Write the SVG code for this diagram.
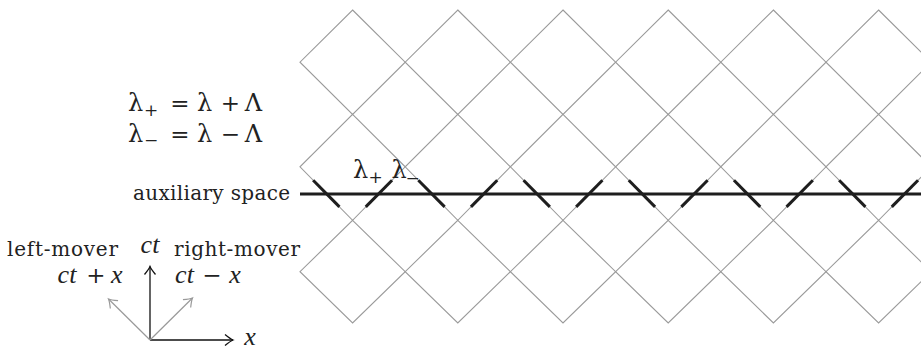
<svg xmlns="http://www.w3.org/2000/svg" width="921" height="349" viewBox="0 0 921 349">
<style>
.grid{fill:none;stroke:#9a9a9a;stroke-width:1.1}
.thick{stroke:#1e1e1e;stroke-width:3;stroke-linecap:butt}
.aux{stroke:#1e1e1e;stroke-width:3}
.lbl{font-family:"DejaVu Serif","Liberation Serif",serif;font-size:20px;fill:#222}
.math{font-family:"DejaVu Serif","Liberation Serif",serif;font-size:24px;fill:#222;text-anchor:middle}
.op{font-family:"DejaVu Serif","Liberation Serif",serif;font-size:23px;fill:#222;text-anchor:middle}
.mi{font-family:"Liberation Serif","DejaVu Serif",serif;font-style:italic;font-size:26px;fill:#222;text-anchor:middle}
.sub{font-family:"DejaVu Serif","Liberation Serif",serif;font-size:17px;fill:#222;text-anchor:middle}
.axk{stroke:#111;stroke-width:1.3;fill:none}
.axg{stroke:#999;stroke-width:1.2;fill:none}
</style>
<defs>
<marker id="ak" markerUnits="userSpaceOnUse" markerWidth="14" markerHeight="14" viewBox="-10 -7 14 14" refX="0" refY="0" orient="auto">
<path d="M-8,-5.5 Q-2.5,-1 0,0 Q-2.5,1 -8,5.5" fill="none" stroke="#111" stroke-width="1.3"/>
</marker>
<marker id="ag" markerUnits="userSpaceOnUse" markerWidth="14" markerHeight="14" viewBox="-10 -7 14 14" refX="0" refY="0" orient="auto">
<path d="M-8,-5.5 Q-2.5,-1 0,0 Q-2.5,1 -8,5.5" fill="none" stroke="#999" stroke-width="1.2"/>
</marker>
</defs>
<rect width="921" height="349" fill="#fff"/>
<g id="lattice" class="grid">
<polygon points="352.6,10 405.2,62.2 352.6,114.4 300,62.2"/>
<polygon points="457.8,10 510.4,62.2 457.8,114.4 405.2,62.2"/>
<polygon points="563,10 615.6,62.2 563,114.4 510.4,62.2"/>
<polygon points="668.2,10 720.8,62.2 668.2,114.4 615.6,62.2"/>
<polygon points="773.4,10 826,62.2 773.4,114.4 720.8,62.2"/>
<polygon points="878.6,10 931.2,62.2 878.6,114.4 826,62.2"/>
<polygon points="352.6,114.4 405.2,166.8 352.6,220.3 300,166.8"/>
<polygon points="457.8,114.4 510.4,166.8 457.8,220.3 405.2,166.8"/>
<polygon points="563,114.4 615.6,166.8 563,220.3 510.4,166.8"/>
<polygon points="668.2,114.4 720.8,166.8 668.2,220.3 615.6,166.8"/>
<polygon points="773.4,114.4 826,166.8 773.4,220.3 720.8,166.8"/>
<polygon points="878.6,114.4 931.2,166.8 878.6,220.3 826,166.8"/>
<polygon points="352.6,220.3 405.2,271.7 352.6,323 300,271.7"/>
<polygon points="457.8,220.3 510.4,271.7 457.8,323 405.2,271.7"/>
<polygon points="563,220.3 615.6,271.7 563,323 510.4,271.7"/>
<polygon points="668.2,220.3 720.8,271.7 668.2,323 615.6,271.7"/>
<polygon points="773.4,220.3 826,271.7 773.4,323 720.8,271.7"/>
<polygon points="878.6,220.3 931.2,271.7 878.6,323 826,271.7"/>
</g>
<g id="connectors">
<line class="aux" x1="300" y1="194" x2="921" y2="194"/>
<g class="thick">
<line x1="313.15" y1="180.2" x2="339.45" y2="206.9"/>
<line x1="392.05" y1="180.2" x2="365.75" y2="206.9"/>
<line x1="418.35" y1="180.2" x2="444.65" y2="206.9"/>
<line x1="497.25" y1="180.2" x2="470.95" y2="206.9"/>
<line x1="523.55" y1="180.2" x2="549.85" y2="206.9"/>
<line x1="602.45" y1="180.2" x2="576.15" y2="206.9"/>
<line x1="628.75" y1="180.2" x2="655.05" y2="206.9"/>
<line x1="707.65" y1="180.2" x2="681.35" y2="206.9"/>
<line x1="733.95" y1="180.2" x2="760.25" y2="206.9"/>
<line x1="812.85" y1="180.2" x2="786.55" y2="206.9"/>
<line x1="839.15" y1="180.2" x2="865.45" y2="206.9"/>
<line x1="918.05" y1="180.2" x2="891.75" y2="206.9"/>
</g>
<line class="axk" x1="150" y1="340" x2="150" y2="266.5" marker-end="url(#ak)"/>
<line class="axk" x1="150" y1="340" x2="233" y2="340" marker-end="url(#ak)"/>
<line class="axg" x1="150" y1="340" x2="108.5" y2="299" marker-end="url(#ag)"/>
<line class="axg" x1="150" y1="340" x2="192.5" y2="298" marker-end="url(#ag)"/>
</g>
<g id="equations">
<text class="math" x="135.5" y="111">λ</text>
<text class="sub" x="151" y="115.5">+</text>
<text class="op" x="180" y="111">=</text>
<text class="math" x="204.5" y="111">λ</text>
<text class="op" x="230.5" y="111">+</text>
<text class="math" x="253.5" y="111">Λ</text>
<text class="math" x="135.5" y="142">λ</text>
<text class="sub" x="151" y="145.5">−</text>
<text class="op" x="180" y="142">=</text>
<text class="math" x="204.5" y="142">λ</text>
<text class="op" x="230.5" y="142">−</text>
<text class="math" x="253.5" y="142">Λ</text>
</g>
<g id="aux-labels">
<text class="lbl" x="133" y="200" textLength="157">auxiliary space</text>
<text class="math" x="360.5" y="178.3">λ</text>
<text class="sub" x="375.5" y="182.5">+</text>
<text class="math" x="399" y="178.3">λ</text>
<text class="sub" x="412.5" y="184">−</text>
</g>
<g id="axes-labels">
<text class="lbl" x="7" y="256" textLength="111">left-mover</text>
<text class="lbl" x="174" y="256" textLength="126">right-mover</text>
<text class="mi" x="150" y="252.5" font-size="23">ct</text>
<text class="mi" x="67" y="283.3">ct</text>
<text class="op" x="96" y="283.3">+</text>
<text class="mi" x="116.7" y="283.3">x</text>
<text class="mi" x="184.5" y="283.3">ct</text>
<text class="op" x="212" y="283.3">−</text>
<text class="mi" x="235" y="283.3">x</text>
<text class="mi" x="250" y="344.5">x</text>
</g>
</svg>
